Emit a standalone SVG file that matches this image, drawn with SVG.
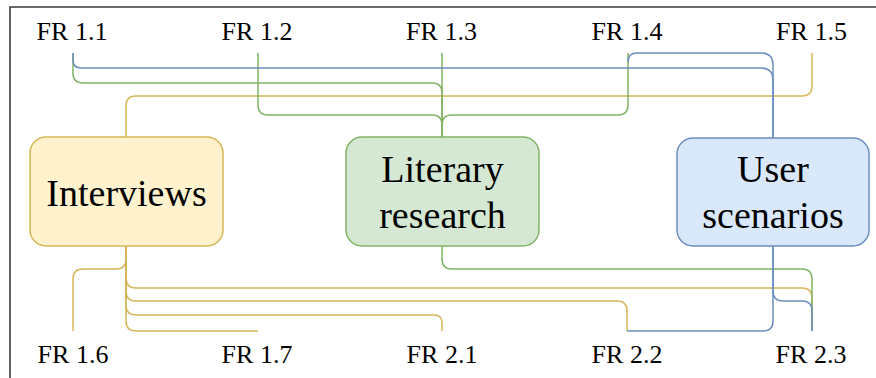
<svg xmlns="http://www.w3.org/2000/svg" width="876" height="378" viewBox="0 0 876 378">
  <style>
    .lbl { font-family: "Liberation Serif", "Times New Roman", serif; font-size: 26px; fill: #000; text-anchor: middle; }
    .big { font-family: "Liberation Serif", "Times New Roman", serif; font-size: 38px; fill: #000; text-anchor: middle; }
    .edge { fill: none; stroke-width: 1.5; stroke-linejoin: round; }
    .y { stroke: #d6b656; }
    .g { stroke: #82b366; }
    .b { stroke: #6c8ebf; }
  </style>
  <rect width="876" height="378" fill="#ffffff"/>
  <!-- frame -->
  <path d="M10,378 L10,7 L876,7" fill="none" stroke="#3a3a3a" stroke-width="1.6"/>

  <!-- connectors -->
  <g id="connectors">
    <!-- into Interviews -->
    <path class="edge y" d="M812,53 L812,86 Q812,96 802,96 L136,96 Q126,96 126,106 L126,137"/>
    <!-- into Literary research -->
    <path class="edge g" d="M73,53 L73,73 Q73,83 83,83 L432,83 Q442,83 442,93 L442,137"/>
    <path class="edge g" d="M258,53 L258,105 Q258,115 268,115 L432,115 Q442,115 442,125 L442,137"/>
    <path class="edge g" d="M442,53 L442,137"/>
    <path class="edge g" d="M628,53 L628,105 Q628,115 618,115 L452,115 Q442,115 442,125 L442,137"/>
    <!-- into User scenarios -->
    <path class="edge b" d="M73,53 L73,60 Q73,68 81,68 L761,68 Q773,68 773,80 L773,138"/>
    <path class="edge b" d="M628,62 Q628,53 637,53 L761,53 Q773,53 773,65 L773,138"/>

    <!-- out of Interviews -->
    <path class="edge y" d="M126,246 L126,259 Q126,269 116,269 L83,269 Q73,269 73,279 L73,331"/>
    <path class="edge y" d="M126,246 L126,321 Q126,331 136,331 L258,331"/>
    <path class="edge y" d="M126,246 L126,305 Q126,315 136,315 L434,315 Q442,315 442,323 L442,331"/>
    <path class="edge y" d="M126,246 L126,291 Q126,301 136,301 L617,301 Q627,301 627,311 L627,331"/>
    <path class="edge y" d="M126,246 L126,278 Q126,288 136,288 L802,288 Q812,288 812,298 L812,331"/>
    <!-- out of Literary research -->
    <path class="edge g" d="M442,246 L442,259 Q442,269 452,269 L802,269 Q812,269 812,279 L812,331"/>
    <!-- out of User scenarios -->
    <path class="edge b" d="M773,246 L773,321 Q773,331 763,331 L627,331"/>
    <path class="edge b" d="M773,246 L773,291 Q773,301 783,301 L802,301 Q812,301 812,311 L812,331"/>
  </g>

  <!-- nodes -->
  <g id="interviews">
    <rect x="30" y="137" width="193" height="109" rx="16" ry="16" fill="#fff2cc" stroke="#d6b656" stroke-width="1.5"/>
    <text class="big" x="126.5" y="206">Interviews</text>
  </g>
  <g id="literary-research">
    <rect x="346" y="137" width="193" height="109" rx="16" ry="16" fill="#d5e8d4" stroke="#82b366" stroke-width="1.5"/>
    <text class="big" x="442.5" y="182">Literary</text>
    <text class="big" x="442.5" y="228">research</text>
  </g>
  <g id="user-scenarios">
    <rect x="677" y="138" width="192" height="108" rx="16" ry="16" fill="#dae8fc" stroke="#6c8ebf" stroke-width="1.5"/>
    <text class="big" x="773" y="182">User</text>
    <text class="big" x="773" y="228">scenarios</text>
  </g>

  <!-- requirement labels -->
  <g id="fr-1-1"><text class="lbl" x="72" y="39.5">FR 1.1</text></g>
  <g id="fr-1-2"><text class="lbl" x="257" y="39.5">FR 1.2</text></g>
  <g id="fr-1-3"><text class="lbl" x="441.5" y="39.5">FR 1.3</text></g>
  <g id="fr-1-4"><text class="lbl" x="627" y="39.5">FR 1.4</text></g>
  <g id="fr-1-5"><text class="lbl" x="811.5" y="39.5">FR 1.5</text></g>
  <g id="fr-1-6"><text class="lbl" x="73" y="363">FR 1.6</text></g>
  <g id="fr-1-7"><text class="lbl" x="257" y="363">FR 1.7</text></g>
  <g id="fr-2-1"><text class="lbl" x="442" y="363">FR 2.1</text></g>
  <g id="fr-2-2"><text class="lbl" x="627" y="363">FR 2.2</text></g>
  <g id="fr-2-3"><text class="lbl" x="811" y="363">FR 2.3</text></g>
</svg>
